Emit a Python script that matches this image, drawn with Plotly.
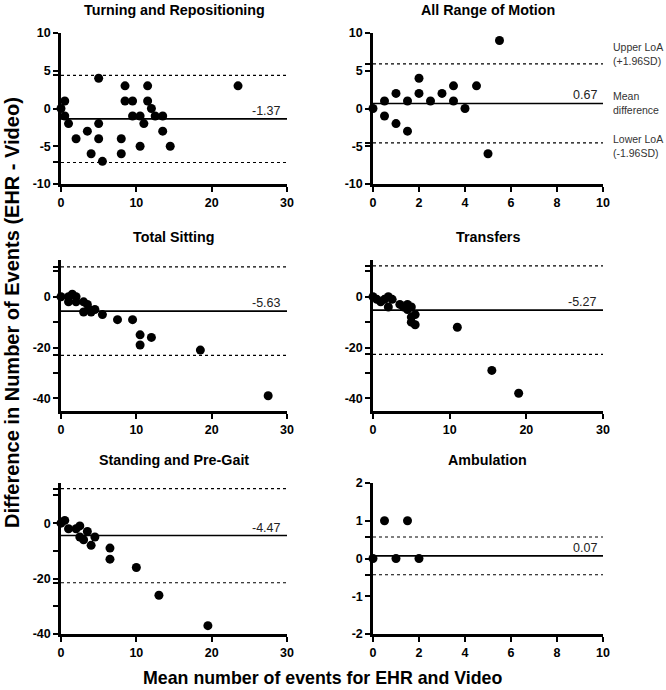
import plotly.graph_objects as go

# ---------------- data ----------------
titles = ["Turning and Repositioning", "All Range of Motion", "Total Sitting",
          "Transfers", "Standing and Pre-Gait", "Ambulation"]

turn_x = [0, 0.5, 0.5, 1, 2, 3.5, 4, 5, 5, 5, 5.5, 8, 8, 8.5, 8.5, 9.5, 9.5, 10.5, 10.5, 11,
          11.5, 11.5, 12, 12.5, 13.5, 13.5, 14.5, 23.5]
turn_y = [0, 1, -1, -2, -4, -3, -6, 4, -2, -4, -7, -4, -6, 3, 1, 1, -1, -1, -5, -2,
          3, 1, 0, -1, -1, -3, -5, 3]

rom_x = [0, 0.5, 0.5, 1, 1, 1.5, 1.5, 2, 2, 2.5, 3, 3.5, 3.5, 4, 4.5, 5, 5.5]
rom_y = [0, 1, -1, 2, -2, 1, -3, 4, 2, 1, 2, 3, 1, 0, 3, -6, 9]

sit_x = [0, 1, 1, 1.5, 2, 2, 3, 3, 3.5, 3.75, 4, 4.5, 5.5, 7.5, 9.5, 10.5, 10.5, 12, 18.5, 27.5]
sit_y = [0, 0, -2, 1, 0, -2, -2, -6, -3, -5, -6, -5, -7, -9, -9, -15, -19, -16, -21, -39]

trans_x = [0, 0.5, 1, 1.5, 2, 2, 2.5, 3.5, 4, 4.5, 4.5, 5, 5, 5, 5.5, 5.5, 11, 15.5, 19]
trans_y = [0, -1, -2, -1, 0, -4, -1, -3, -4, -3, -5, -4, -8, -10, -7, -11, -12, -29, -38]

stand_x = [0, 0.5, 1, 2, 2.5, 2.5, 3, 3.5, 4, 4.5, 6.5, 6.5, 10, 13, 19.5]
stand_y = [0, 1, -2, -2, -1, -5, -6, -3, -8, -5, -9, -13, -16, -26, -37]

amb_x = [0, 0.5, 1, 1.5, 2]
amb_y = [0, 1, 0, 1, 0]

means = [-1.37, 0.67, -5.63, -5.27, -4.47, 0.07]
upper_loa = [4.4, 5.9, 11.8, 12.2, 12.5, 0.57]
lower_loa = [-7.15, -4.56, -23.1, -22.7, -21.5, -0.43]
mean_labels = ["-1.37", "0.67", "-5.63", "-5.27", "-4.47", "0.07"]

x_ranges = [[0, 30], [0, 10], [0, 30], [0, 30], [0, 30], [0, 10]]
y_ranges = [[-10, 10], [-10, 10], [-45, 14.5], [-45, 14.5], [-40, 14.5], [-2, 2]]
x_ticks = [[0, 10, 20, 30], [0, 2, 4, 6, 8, 10], [0, 10, 20, 30],
           [0, 10, 20, 30], [0, 10, 20, 30], [0, 2, 4, 6, 8, 10]]
y_ticks = [[-10, -5, 0, 5, 10], [-10, -5, 0, 5, 10], [-40, -20, 0],
           [-40, -20, 0], [-40, -20, 0], [-2, -1, 0, 1, 2]]
y_minor = [[], [], [-30, -10, 10], [-30, -10, 10], [-30, -10, 10], []]

loa_text = ["Upper LoA<br>(+1.96SD)", "Mean<br>difference", "Lower LoA<br>(-1.96SD)"]

xs = [turn_x, rom_x, sit_x, trans_x, stand_x, amb_x]
ys = [turn_y, rom_y, sit_y, trans_y, stand_y, amb_y]

# ---------------- layout geometry (pixels) ----------------
W, H = 666, 690
col_px = [(61, 287), (373, 603)]
row_px = [(33, 184), (260, 411), (483, 634)]

FONT = "Liberation Sans, Arial, Helvetica, sans-serif"

fig = go.Figure()
layout = dict(width=W, height=H, margin=dict(l=0, r=0, t=0, b=0),
              paper_bgcolor="white", plot_bgcolor="white", showlegend=False,
              font=dict(family=FONT, color="black"))
annotations = []
shapes = []

for i in range(6):
    r, c = divmod(i, 2)
    ax = "" if i == 0 else str(i + 1)
    xd = [col_px[c][0] / W, col_px[c][1] / W]
    yd = [1 - row_px[r][1] / H, 1 - row_px[r][0] / H]

    fig.add_trace(go.Scatter(x=xs[i], y=ys[i], mode="markers",
                             marker=dict(size=9, color="black"),
                             xaxis="x" + ax, yaxis="y" + ax, cliponaxis=False,
                             hoverinfo="skip"))

    tv = list(y_ticks[i]) + list(y_minor[i]) + [upper_loa[i], lower_loa[i]]
    tt = [str(v) for v in y_ticks[i]] + [""] * (len(y_minor[i]) + 2)

    layout["xaxis" + ax] = dict(domain=xd, anchor="y" + ax, range=x_ranges[i],
                                tickvals=x_ticks[i], ticks="outside", ticklen=5,
                                tickwidth=2, tickcolor="black", showline=True,
                                linecolor="black", linewidth=2.5, showgrid=False,
                                zeroline=False, automargin=False,
                                tickfont=dict(family=FONT, size=12.5, color="black", weight="bold"))
    layout["yaxis" + ax] = dict(domain=yd, anchor="x" + ax, range=y_ranges[i],
                                tickvals=tv, ticktext=tt, ticks="outside", ticklen=5,
                                tickwidth=2, tickcolor="black", showline=True,
                                linecolor="black", linewidth=2.5, showgrid=False,
                                zeroline=False, automargin=False,
                                tickfont=dict(family=FONT, size=12.5, color="black", weight="bold"))

    # mean and LoA lines
    shapes.append(dict(type="line", xref="x" + ax + " domain", yref="y" + ax,
                       x0=0, x1=1, y0=means[i], y1=means[i],
                       line=dict(color="black", width=1.6)))
    for v in (upper_loa[i], lower_loa[i]):
        shapes.append(dict(type="line", xref="x" + ax + " domain", yref="y" + ax,
                           x0=0, x1=1, y0=v, y1=v,
                           line=dict(color="black", width=1.2, dash="dot")))

    annotations.append(dict(xref="x" + ax + " domain", yref="y" + ax, x=1, y=means[i],
                            text=mean_labels[i], showarrow=False, xanchor="right",
                            yanchor="bottom", xshift=-4, yshift=-1,
                            font=dict(family=FONT, size=12.5, color="#222")))
    # subplot title
    annotations.append(dict(xref="paper", yref="paper", x=(xd[0] + xd[1]) / 2,
                            y=1 - (row_px[r][0] - 23) / H, text="<b>" + titles[i] + "</b>",
                            showarrow=False, xanchor="center", yanchor="middle",
                            font=dict(family=FONT, size=14.3, color="black")))

# LoA legend text beside the All Range of Motion panel
for txt, py in zip(loa_text, [54, 103, 146]):
    annotations.append(dict(xref="paper", yref="paper", x=611 / W, y=1 - py / H,
                            text=txt, showarrow=False, xanchor="left", yanchor="middle",
                            align="left", font=dict(family=FONT, size=10.5, color="#333")))

# shared axis titles
annotations.append(dict(xref="paper", yref="paper", x=12 / W, y=1 - 313 / H,
                        text="<b>Difference in Number of Events (EHR - Video)</b>",
                        textangle=-90, showarrow=False, xanchor="center", yanchor="middle",
                        font=dict(family=FONT, size=20, color="black")))
annotations.append(dict(xref="paper", yref="paper", x=322 / W, y=1 - 678 / H,
                        text="<b>Mean number of events for EHR and Video</b>",
                        showarrow=False, xanchor="center", yanchor="middle",
                        font=dict(family=FONT, size=17.8, color="black")))

layout["annotations"] = annotations
layout["shapes"] = shapes
fig.update_layout(**layout)
fig.write_html("out.html", config={"displayModeBar": False},
               post_script="document.body.style.margin='0';"
                           "document.body.style.overflow='hidden';")
